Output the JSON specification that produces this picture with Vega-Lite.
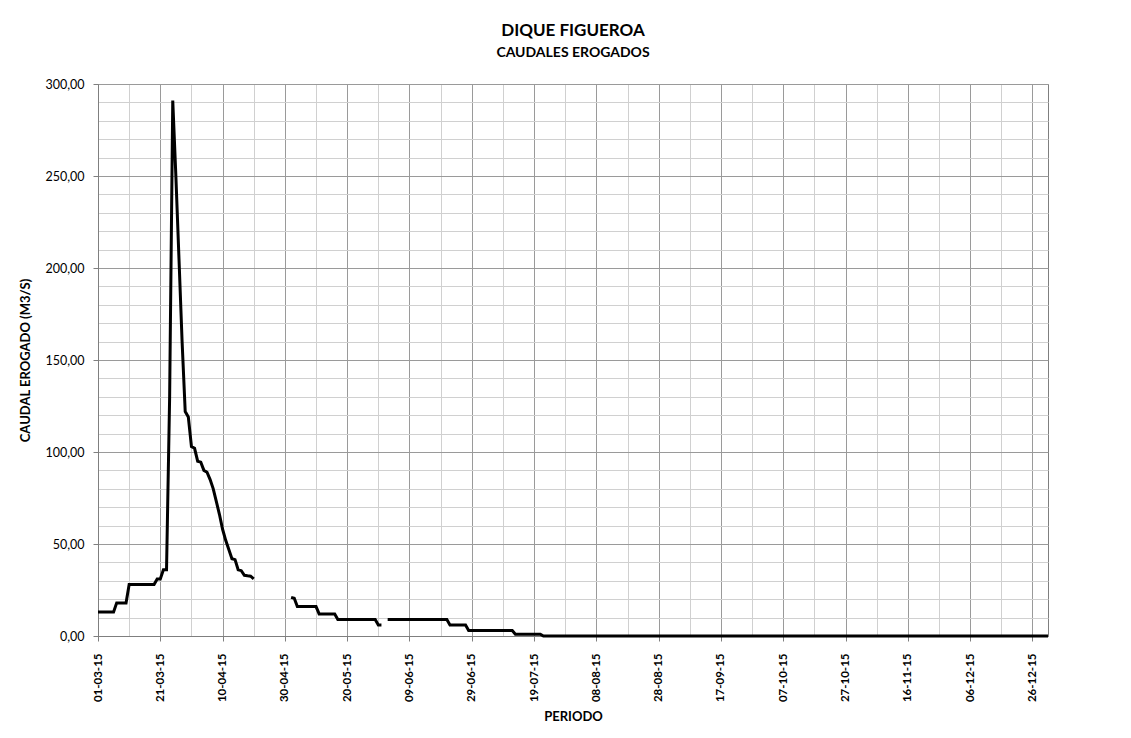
{
  "$schema": "https://vega.github.io/schema/vega-lite/v6.json",
  "width": 950,
  "height": 552,
  "autosize": {"type": "none"},
  "padding": {"left": 98, "top": 84, "right": 83, "bottom": 102},
  "background": "white",
  "title": {
    "text": "DIQUE FIGUEROA",
    "subtitle": "CAUDALES EROGADOS",
    "anchor": "middle",
    "font": "Lato",
    "fontSize": 17,
    "fontWeight": "bold",
    "color": "#000000",
    "subtitleFont": "Lato",
    "subtitleFontSize": 14,
    "subtitleFontWeight": "bold",
    "subtitleColor": "#000000",
    "subtitlePadding": 6,
    "offset": 17
  },
  "config": {
    "view": {"stroke": "#7f7f7f", "strokeWidth": 1},
    "axis": {"gridWidth": 1}
  },
  "data": {
    "values": [
      {"fecha": "2015-03-01", "caudal": 13}, {"fecha": "2015-03-02", "caudal": 13}, {"fecha": "2015-03-03", "caudal": 13}, {"fecha": "2015-03-04", "caudal": 13}, {"fecha": "2015-03-05", "caudal": 13}, {"fecha": "2015-03-06", "caudal": 13},
      {"fecha": "2015-03-07", "caudal": 18}, {"fecha": "2015-03-08", "caudal": 18}, {"fecha": "2015-03-09", "caudal": 18}, {"fecha": "2015-03-10", "caudal": 18},
      {"fecha": "2015-03-11", "caudal": 28}, {"fecha": "2015-03-12", "caudal": 28}, {"fecha": "2015-03-13", "caudal": 28}, {"fecha": "2015-03-14", "caudal": 28}, {"fecha": "2015-03-15", "caudal": 28}, {"fecha": "2015-03-16", "caudal": 28}, {"fecha": "2015-03-17", "caudal": 28}, {"fecha": "2015-03-18", "caudal": 28}, {"fecha": "2015-03-19", "caudal": 28},
      {"fecha": "2015-03-20", "caudal": 31}, {"fecha": "2015-03-21", "caudal": 31}, {"fecha": "2015-03-22", "caudal": 36}, {"fecha": "2015-03-23", "caudal": 36},
      {"fecha": "2015-03-24", "caudal": 130}, {"fecha": "2015-03-25", "caudal": 291}, {"fecha": "2015-03-26", "caudal": 250}, {"fecha": "2015-03-27", "caudal": 205}, {"fecha": "2015-03-28", "caudal": 160}, {"fecha": "2015-03-29", "caudal": 122}, {"fecha": "2015-03-30", "caudal": 119}, {"fecha": "2015-03-31", "caudal": 103},
      {"fecha": "2015-04-01", "caudal": 102}, {"fecha": "2015-04-02", "caudal": 95}, {"fecha": "2015-04-03", "caudal": 94.5}, {"fecha": "2015-04-04", "caudal": 90}, {"fecha": "2015-04-05", "caudal": 89}, {"fecha": "2015-04-06", "caudal": 85}, {"fecha": "2015-04-07", "caudal": 80}, {"fecha": "2015-04-08", "caudal": 73}, {"fecha": "2015-04-09", "caudal": 66}, {"fecha": "2015-04-10", "caudal": 58},
      {"fecha": "2015-04-11", "caudal": 52}, {"fecha": "2015-04-12", "caudal": 47}, {"fecha": "2015-04-13", "caudal": 42}, {"fecha": "2015-04-14", "caudal": 41.5}, {"fecha": "2015-04-15", "caudal": 36}, {"fecha": "2015-04-16", "caudal": 35.5}, {"fecha": "2015-04-17", "caudal": 33}, {"fecha": "2015-04-18", "caudal": 32.7}, {"fecha": "2015-04-19", "caudal": 32.5}, {"fecha": "2015-04-20", "caudal": 31},
      {"fecha": "2015-04-21", "caudal": null}, {"fecha": "2015-04-22", "caudal": null}, {"fecha": "2015-04-23", "caudal": null}, {"fecha": "2015-04-24", "caudal": null}, {"fecha": "2015-04-25", "caudal": null}, {"fecha": "2015-04-26", "caudal": null}, {"fecha": "2015-04-27", "caudal": null}, {"fecha": "2015-04-28", "caudal": null}, {"fecha": "2015-04-29", "caudal": null}, {"fecha": "2015-04-30", "caudal": null}, {"fecha": "2015-05-01", "caudal": null},
      {"fecha": "2015-05-02", "caudal": 21}, {"fecha": "2015-05-03", "caudal": 20.5},
      {"fecha": "2015-05-04", "caudal": 16}, {"fecha": "2015-05-05", "caudal": 16}, {"fecha": "2015-05-06", "caudal": 16}, {"fecha": "2015-05-07", "caudal": 16}, {"fecha": "2015-05-08", "caudal": 16}, {"fecha": "2015-05-09", "caudal": 16}, {"fecha": "2015-05-10", "caudal": 16},
      {"fecha": "2015-05-11", "caudal": 12}, {"fecha": "2015-05-12", "caudal": 12}, {"fecha": "2015-05-13", "caudal": 12}, {"fecha": "2015-05-14", "caudal": 12}, {"fecha": "2015-05-15", "caudal": 12}, {"fecha": "2015-05-16", "caudal": 12},
      {"fecha": "2015-05-17", "caudal": 9}, {"fecha": "2015-05-18", "caudal": 9}, {"fecha": "2015-05-19", "caudal": 9}, {"fecha": "2015-05-20", "caudal": 9}, {"fecha": "2015-05-21", "caudal": 9}, {"fecha": "2015-05-22", "caudal": 9}, {"fecha": "2015-05-23", "caudal": 9}, {"fecha": "2015-05-24", "caudal": 9}, {"fecha": "2015-05-25", "caudal": 9}, {"fecha": "2015-05-26", "caudal": 9}, {"fecha": "2015-05-27", "caudal": 9}, {"fecha": "2015-05-28", "caudal": 9}, {"fecha": "2015-05-29", "caudal": 9},
      {"fecha": "2015-05-30", "caudal": 6}, {"fecha": "2015-05-31", "caudal": 6},
      {"fecha": "2015-06-01", "caudal": null},
      {"fecha": "2015-06-02", "caudal": 9}, {"fecha": "2015-06-03", "caudal": 9}, {"fecha": "2015-06-04", "caudal": 9}, {"fecha": "2015-06-05", "caudal": 9}, {"fecha": "2015-06-06", "caudal": 9}, {"fecha": "2015-06-07", "caudal": 9}, {"fecha": "2015-06-08", "caudal": 9}, {"fecha": "2015-06-09", "caudal": 9}, {"fecha": "2015-06-10", "caudal": 9}, {"fecha": "2015-06-11", "caudal": 9}, {"fecha": "2015-06-12", "caudal": 9}, {"fecha": "2015-06-13", "caudal": 9}, {"fecha": "2015-06-14", "caudal": 9}, {"fecha": "2015-06-15", "caudal": 9}, {"fecha": "2015-06-16", "caudal": 9}, {"fecha": "2015-06-17", "caudal": 9}, {"fecha": "2015-06-18", "caudal": 9}, {"fecha": "2015-06-19", "caudal": 9}, {"fecha": "2015-06-20", "caudal": 9}, {"fecha": "2015-06-21", "caudal": 9},
      {"fecha": "2015-06-22", "caudal": 6}, {"fecha": "2015-06-23", "caudal": 6}, {"fecha": "2015-06-24", "caudal": 6}, {"fecha": "2015-06-25", "caudal": 6}, {"fecha": "2015-06-26", "caudal": 6}, {"fecha": "2015-06-27", "caudal": 6},
      {"fecha": "2015-06-28", "caudal": 3}, {"fecha": "2015-06-29", "caudal": 3}, {"fecha": "2015-06-30", "caudal": 3}, {"fecha": "2015-07-01", "caudal": 3}, {"fecha": "2015-07-02", "caudal": 3}, {"fecha": "2015-07-03", "caudal": 3}, {"fecha": "2015-07-04", "caudal": 3}, {"fecha": "2015-07-05", "caudal": 3}, {"fecha": "2015-07-06", "caudal": 3}, {"fecha": "2015-07-07", "caudal": 3}, {"fecha": "2015-07-08", "caudal": 3}, {"fecha": "2015-07-09", "caudal": 3}, {"fecha": "2015-07-10", "caudal": 3}, {"fecha": "2015-07-11", "caudal": 3}, {"fecha": "2015-07-12", "caudal": 3},
      {"fecha": "2015-07-13", "caudal": 1}, {"fecha": "2015-07-14", "caudal": 1}, {"fecha": "2015-07-15", "caudal": 1}, {"fecha": "2015-07-16", "caudal": 1}, {"fecha": "2015-07-17", "caudal": 1}, {"fecha": "2015-07-18", "caudal": 1}, {"fecha": "2015-07-19", "caudal": 1}, {"fecha": "2015-07-20", "caudal": 1}, {"fecha": "2015-07-21", "caudal": 1},
      {"fecha": "2015-07-22", "caudal": 0}, {"fecha": "2015-07-23", "caudal": 0}, {"fecha": "2015-07-24", "caudal": 0}, {"fecha": "2015-07-25", "caudal": 0}, {"fecha": "2015-07-26", "caudal": 0}, {"fecha": "2015-07-27", "caudal": 0}, {"fecha": "2015-07-28", "caudal": 0}, {"fecha": "2015-07-29", "caudal": 0}, {"fecha": "2015-07-30", "caudal": 0}, {"fecha": "2015-07-31", "caudal": 0},
      {"fecha": "2015-08-01", "caudal": 0}, {"fecha": "2015-08-02", "caudal": 0}, {"fecha": "2015-08-03", "caudal": 0}, {"fecha": "2015-08-04", "caudal": 0}, {"fecha": "2015-08-05", "caudal": 0}, {"fecha": "2015-08-06", "caudal": 0}, {"fecha": "2015-08-07", "caudal": 0}, {"fecha": "2015-08-08", "caudal": 0}, {"fecha": "2015-08-09", "caudal": 0}, {"fecha": "2015-08-10", "caudal": 0}, {"fecha": "2015-08-11", "caudal": 0}, {"fecha": "2015-08-12", "caudal": 0}, {"fecha": "2015-08-13", "caudal": 0}, {"fecha": "2015-08-14", "caudal": 0}, {"fecha": "2015-08-15", "caudal": 0}, {"fecha": "2015-08-16", "caudal": 0}, {"fecha": "2015-08-17", "caudal": 0}, {"fecha": "2015-08-18", "caudal": 0}, {"fecha": "2015-08-19", "caudal": 0}, {"fecha": "2015-08-20", "caudal": 0}, {"fecha": "2015-08-21", "caudal": 0}, {"fecha": "2015-08-22", "caudal": 0}, {"fecha": "2015-08-23", "caudal": 0}, {"fecha": "2015-08-24", "caudal": 0}, {"fecha": "2015-08-25", "caudal": 0}, {"fecha": "2015-08-26", "caudal": 0}, {"fecha": "2015-08-27", "caudal": 0}, {"fecha": "2015-08-28", "caudal": 0}, {"fecha": "2015-08-29", "caudal": 0}, {"fecha": "2015-08-30", "caudal": 0}, {"fecha": "2015-08-31", "caudal": 0},
      {"fecha": "2015-09-01", "caudal": 0}, {"fecha": "2015-09-02", "caudal": 0}, {"fecha": "2015-09-03", "caudal": 0}, {"fecha": "2015-09-04", "caudal": 0}, {"fecha": "2015-09-05", "caudal": 0}, {"fecha": "2015-09-06", "caudal": 0}, {"fecha": "2015-09-07", "caudal": 0}, {"fecha": "2015-09-08", "caudal": 0}, {"fecha": "2015-09-09", "caudal": 0}, {"fecha": "2015-09-10", "caudal": 0}, {"fecha": "2015-09-11", "caudal": 0}, {"fecha": "2015-09-12", "caudal": 0}, {"fecha": "2015-09-13", "caudal": 0}, {"fecha": "2015-09-14", "caudal": 0}, {"fecha": "2015-09-15", "caudal": 0}, {"fecha": "2015-09-16", "caudal": 0}, {"fecha": "2015-09-17", "caudal": 0}, {"fecha": "2015-09-18", "caudal": 0}, {"fecha": "2015-09-19", "caudal": 0}, {"fecha": "2015-09-20", "caudal": 0}, {"fecha": "2015-09-21", "caudal": 0}, {"fecha": "2015-09-22", "caudal": 0}, {"fecha": "2015-09-23", "caudal": 0}, {"fecha": "2015-09-24", "caudal": 0}, {"fecha": "2015-09-25", "caudal": 0}, {"fecha": "2015-09-26", "caudal": 0}, {"fecha": "2015-09-27", "caudal": 0}, {"fecha": "2015-09-28", "caudal": 0}, {"fecha": "2015-09-29", "caudal": 0}, {"fecha": "2015-09-30", "caudal": 0},
      {"fecha": "2015-10-01", "caudal": 0}, {"fecha": "2015-10-02", "caudal": 0}, {"fecha": "2015-10-03", "caudal": 0}, {"fecha": "2015-10-04", "caudal": 0}, {"fecha": "2015-10-05", "caudal": 0}, {"fecha": "2015-10-06", "caudal": 0}, {"fecha": "2015-10-07", "caudal": 0}, {"fecha": "2015-10-08", "caudal": 0}, {"fecha": "2015-10-09", "caudal": 0}, {"fecha": "2015-10-10", "caudal": 0}, {"fecha": "2015-10-11", "caudal": 0}, {"fecha": "2015-10-12", "caudal": 0}, {"fecha": "2015-10-13", "caudal": 0}, {"fecha": "2015-10-14", "caudal": 0}, {"fecha": "2015-10-15", "caudal": 0}, {"fecha": "2015-10-16", "caudal": 0}, {"fecha": "2015-10-17", "caudal": 0}, {"fecha": "2015-10-18", "caudal": 0}, {"fecha": "2015-10-19", "caudal": 0}, {"fecha": "2015-10-20", "caudal": 0}, {"fecha": "2015-10-21", "caudal": 0}, {"fecha": "2015-10-22", "caudal": 0}, {"fecha": "2015-10-23", "caudal": 0}, {"fecha": "2015-10-24", "caudal": 0}, {"fecha": "2015-10-25", "caudal": 0}, {"fecha": "2015-10-26", "caudal": 0}, {"fecha": "2015-10-27", "caudal": 0}, {"fecha": "2015-10-28", "caudal": 0}, {"fecha": "2015-10-29", "caudal": 0}, {"fecha": "2015-10-30", "caudal": 0}, {"fecha": "2015-10-31", "caudal": 0},
      {"fecha": "2015-11-01", "caudal": 0}, {"fecha": "2015-11-02", "caudal": 0}, {"fecha": "2015-11-03", "caudal": 0}, {"fecha": "2015-11-04", "caudal": 0}, {"fecha": "2015-11-05", "caudal": 0}, {"fecha": "2015-11-06", "caudal": 0}, {"fecha": "2015-11-07", "caudal": 0}, {"fecha": "2015-11-08", "caudal": 0}, {"fecha": "2015-11-09", "caudal": 0}, {"fecha": "2015-11-10", "caudal": 0}, {"fecha": "2015-11-11", "caudal": 0}, {"fecha": "2015-11-12", "caudal": 0}, {"fecha": "2015-11-13", "caudal": 0}, {"fecha": "2015-11-14", "caudal": 0}, {"fecha": "2015-11-15", "caudal": 0}, {"fecha": "2015-11-16", "caudal": 0}, {"fecha": "2015-11-17", "caudal": 0}, {"fecha": "2015-11-18", "caudal": 0}, {"fecha": "2015-11-19", "caudal": 0}, {"fecha": "2015-11-20", "caudal": 0}, {"fecha": "2015-11-21", "caudal": 0}, {"fecha": "2015-11-22", "caudal": 0}, {"fecha": "2015-11-23", "caudal": 0}, {"fecha": "2015-11-24", "caudal": 0}, {"fecha": "2015-11-25", "caudal": 0}, {"fecha": "2015-11-26", "caudal": 0}, {"fecha": "2015-11-27", "caudal": 0}, {"fecha": "2015-11-28", "caudal": 0}, {"fecha": "2015-11-29", "caudal": 0}, {"fecha": "2015-11-30", "caudal": 0},
      {"fecha": "2015-12-01", "caudal": 0}, {"fecha": "2015-12-02", "caudal": 0}, {"fecha": "2015-12-03", "caudal": 0}, {"fecha": "2015-12-04", "caudal": 0}, {"fecha": "2015-12-05", "caudal": 0}, {"fecha": "2015-12-06", "caudal": 0}, {"fecha": "2015-12-07", "caudal": 0}, {"fecha": "2015-12-08", "caudal": 0}, {"fecha": "2015-12-09", "caudal": 0}, {"fecha": "2015-12-10", "caudal": 0}, {"fecha": "2015-12-11", "caudal": 0}, {"fecha": "2015-12-12", "caudal": 0}, {"fecha": "2015-12-13", "caudal": 0}, {"fecha": "2015-12-14", "caudal": 0}, {"fecha": "2015-12-15", "caudal": 0}, {"fecha": "2015-12-16", "caudal": 0}, {"fecha": "2015-12-17", "caudal": 0}, {"fecha": "2015-12-18", "caudal": 0}, {"fecha": "2015-12-19", "caudal": 0}, {"fecha": "2015-12-20", "caudal": 0}, {"fecha": "2015-12-21", "caudal": 0}, {"fecha": "2015-12-22", "caudal": 0}, {"fecha": "2015-12-23", "caudal": 0}, {"fecha": "2015-12-24", "caudal": 0}, {"fecha": "2015-12-25", "caudal": 0}, {"fecha": "2015-12-26", "caudal": 0}, {"fecha": "2015-12-27", "caudal": 0}, {"fecha": "2015-12-28", "caudal": 0}, {"fecha": "2015-12-29", "caudal": 0}, {"fecha": "2015-12-30", "caudal": 0}, {"fecha": "2015-12-31", "caudal": 0}
    ]
  },
  "layer": [
    {
      "mark": {"type": "line", "strokeOpacity": 0, "invalid": "break-paths-show-domains"},
      "encoding": {
        "x": {
          "field": "fecha", "type": "temporal",
          "scale": {"type": "utc", "domain": [{"year": 2015, "month": 3, "date": 1, "utc": true}, {"year": 2015, "month": 12, "date": 31, "utc": true}]},
          "axis": {
            "orient": "bottom",
            "values": [
              {"year": 2015, "month": 3, "date": 11, "utc": true}, {"year": 2015, "month": 3, "date": 31, "utc": true},
              {"year": 2015, "month": 4, "date": 20, "utc": true}, {"year": 2015, "month": 5, "date": 10, "utc": true},
              {"year": 2015, "month": 5, "date": 30, "utc": true}, {"year": 2015, "month": 6, "date": 19, "utc": true},
              {"year": 2015, "month": 7, "date": 9, "utc": true}, {"year": 2015, "month": 7, "date": 29, "utc": true},
              {"year": 2015, "month": 8, "date": 18, "utc": true}, {"year": 2015, "month": 9, "date": 7, "utc": true},
              {"year": 2015, "month": 9, "date": 27, "utc": true}, {"year": 2015, "month": 10, "date": 17, "utc": true},
              {"year": 2015, "month": 11, "date": 6, "utc": true}, {"year": 2015, "month": 11, "date": 26, "utc": true},
              {"year": 2015, "month": 12, "date": 16, "utc": true}
            ],
            "grid": true, "gridColor": "#d0d0d0",
            "labels": false, "ticks": false, "domain": false, "title": null
          }
        },
        "y": {
          "field": "caudal", "type": "quantitative",
          "scale": {"domain": [0, 300], "nice": false},
          "axis": {
            "orient": "left",
            "values": [10, 20, 30, 40, 60, 70, 80, 90, 110, 120, 130, 140, 160, 170, 180, 190, 210, 220, 230, 240, 260, 270, 280, 290],
            "grid": true, "gridColor": "#d0d0d0",
            "labels": false, "ticks": false, "domain": false, "title": null
          }
        }
      }
    },
    {
      "mark": {"type": "line", "color": "#000000", "strokeWidth": 3, "invalid": "break-paths-show-domains"},
      "encoding": {
        "x": {
          "field": "fecha", "type": "temporal",
          "axis": {
            "orient": "bottom",
            "values": [
              {"year": 2015, "month": 3, "date": 1, "utc": true}, {"year": 2015, "month": 3, "date": 21, "utc": true},
              {"year": 2015, "month": 4, "date": 10, "utc": true}, {"year": 2015, "month": 4, "date": 30, "utc": true},
              {"year": 2015, "month": 5, "date": 20, "utc": true}, {"year": 2015, "month": 6, "date": 9, "utc": true},
              {"year": 2015, "month": 6, "date": 29, "utc": true}, {"year": 2015, "month": 7, "date": 19, "utc": true},
              {"year": 2015, "month": 8, "date": 8, "utc": true}, {"year": 2015, "month": 8, "date": 28, "utc": true},
              {"year": 2015, "month": 9, "date": 17, "utc": true}, {"year": 2015, "month": 10, "date": 7, "utc": true},
              {"year": 2015, "month": 10, "date": 27, "utc": true}, {"year": 2015, "month": 11, "date": 16, "utc": true},
              {"year": 2015, "month": 12, "date": 6, "utc": true}, {"year": 2015, "month": 12, "date": 26, "utc": true}
            ],
            "format": "%d-%m-%y",
            "labelAngle": 270,
            "labelFont": "Lato", "labelFontSize": 11.5, "labelFontWeight": "bold", "labelColor": "#000000",
            "labelPadding": 12, "labelOverlap": false, "labelFlush": false, "labelBound": false,
            "grid": true, "gridColor": "#9a9a9a",
            "tickSize": 5, "tickColor": "#7f7f7f", "domainColor": "#7f7f7f",
            "title": "PERIODO",
            "titleFont": "Lato", "titleFontSize": 13, "titleFontWeight": "bold", "titleColor": "#000000",
            "titleY": 80, "titleBaseline": "middle"
          }
        },
        "y": {
          "field": "caudal", "type": "quantitative",
          "axis": {
            "orient": "left",
            "values": [0, 50, 100, 150, 200, 250, 300],
            "labelExpr": "replace(format(datum.value, '.2f'), '.', ',')",
            "labelFont": "Lato", "labelFontSize": 12.5, "labelColor": "#000000",
            "labelPadding": 9,
            "grid": true, "gridColor": "#9a9a9a",
            "tickSize": 5, "tickColor": "#7f7f7f", "domainColor": "#7f7f7f",
            "title": "CAUDAL EROGADO  (M3/S)",
            "titleFont": "Lato", "titleFontSize": 13, "titleFontWeight": "bold", "titleColor": "#000000",
            "titleX": -73, "titleY": 276, "titleBaseline": "middle"
          }
        }
      }
    }
  ],
  "resolve": {"axis": {"x": "independent", "y": "independent"}}
}
